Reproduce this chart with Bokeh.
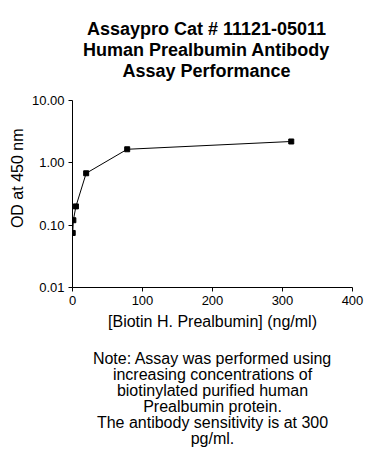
from bokeh.plotting import figure
from bokeh.layouts import column
from bokeh.models import (Range1d, FixedTicker, PrintfTickFormatter, Title,
                          ColumnDataSource)
from bokeh.core.properties import value
from bokeh.embed import file_html
from bokeh.resources import INLINE

# ---- data ----
concentration = [0.305, 1.22, 4.88, 19.53, 78.13, 312.5]   # ng/ml
od_450 = [0.075, 0.12, 0.20, 0.68, 1.65, 2.2]

x_ticks = [0, 100, 200, 300, 400]
y_ticks = [0.01, 0.1, 1, 10]

title_lines = ["Assaypro Cat # 11121-05011",
               "Human Prealbumin Antibody",
               "Assay Performance"]
note_lines = ["Note: Assay was performed using",
              "increasing concentrations of",
              "biotinylated purified human",
              "Prealbumin protein.",
              "The antibody sensitivity is at 300",
              "pg/ml."]
x_label = "[Biotin H. Prealbumin] (ng/ml)"
y_label = "OD at 450 nm"

FONT = "Liberation Sans"
W = 367
LEFT, RIGHT = 72, 15   # borders of the chart frame (shared by the column)


def text_block(height, lines, center_x, first_baseline, spacing, size, style):
    """A bare figure (pixel coordinates) used for centred text lines."""
    f = figure(width=W, height=height, title=None,
               x_range=Range1d(LEFT, W - RIGHT), y_range=Range1d(height, 0),
               output_backend="svg", toolbar_location=None,
               x_axis_location=None, y_axis_location=None,
               min_border=0, min_border_left=LEFT, min_border_right=RIGHT,
               min_border_top=0, min_border_bottom=0)
    f.outline_line_color = None
    f.xgrid.visible = False
    f.ygrid.visible = False
    ys = [first_baseline + i * spacing for i in range(len(lines))]
    f.text(x=[center_x] * len(lines), y=ys, text=lines,
           text_font=value(FONT), text_font_size=size,
           text_font_style=style, text_color="black",
           text_align="center", text_baseline="alphabetic")
    return f


top = text_block(88, title_lines, 206, 28, 21, "18px", "bold")

p = figure(width=W, height=252, y_axis_type="log",
           x_range=Range1d(0, 400), y_range=Range1d(0.01, 10),
           output_backend="svg", toolbar_location=None,
           min_border_left=LEFT, min_border_right=RIGHT,
           min_border_top=12, min_border_bottom=53)
p.outline_line_color = None
p.xgrid.visible = False
p.ygrid.visible = False

src = ColumnDataSource(dict(x=concentration, y=od_450))
p.line("x", "y", source=src, line_color="black", line_width=1)
p.scatter("x", "y", source=src, marker="square", size=5,
          fill_color="black", line_color="black")

for ax in (p.xaxis[0], p.yaxis[0]):
    ax.axis_line_color = "black"
    ax.axis_line_width = 1
    ax.major_tick_line_color = "black"
    ax.major_tick_in = 0
    ax.major_tick_out = 4
    ax.minor_tick_line_color = None
    ax.major_label_text_font = FONT
    ax.major_label_text_font_size = "13px"
    ax.major_label_text_color = "black"
    ax.major_label_standoff = 4

p.xaxis[0].ticker = FixedTicker(ticks=x_ticks)
p.yaxis[0].ticker = FixedTicker(ticks=y_ticks)
p.yaxis[0].formatter = PrintfTickFormatter(format="%.2f")

p.xaxis[0].axis_label = x_label
p.xaxis[0].axis_label_text_font = FONT
p.xaxis[0].axis_label_text_font_size = "16px"
p.xaxis[0].axis_label_text_font_style = "normal"
p.xaxis[0].axis_label_text_color = "black"
p.xaxis[0].axis_label_standoff = 5

p.add_layout(Title(text=y_label, align="right", offset=28,
                   text_font=FONT, text_font_size="16px",
                   text_font_style="normal", text_color="black",
                   standoff=6), "left")

bottom = text_block(111, note_lines, 212, 18, 16, "16px", "normal")

layout = column(top, p, bottom, spacing=0)
open("out.html", "w").write(file_html(layout, INLINE))
